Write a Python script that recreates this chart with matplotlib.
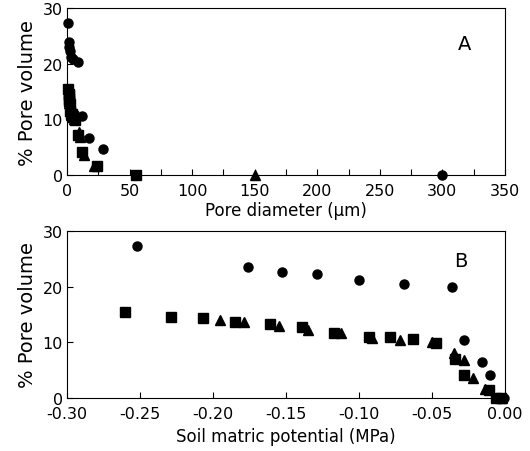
import matplotlib
matplotlib.use("Agg")
import matplotlib.pyplot as plt
from matplotlib.ticker import MultipleLocator

plt.rcParams['font.family'] = ['DejaVu Sans']

# panel A: pore diameter (um) vs % pore volume
a_circ_x = [1.2, 1.7, 2.0, 2.4, 3.0, 5.0, 9.0, 11.7, 17.9, 28.5, 300]
a_circ_y = [27.3, 23.9, 23.0, 22.4, 21.3, 20.9, 20.3, 10.7, 6.6, 4.6, 0]
a_sq_x = [1.1, 1.3, 1.4, 1.6, 1.8, 2.1, 2.5, 3.1, 3.7, 4.6, 6.2, 8.5, 11.7, 24, 55]
a_sq_y = [15.5, 14.6, 14.4, 13.7, 13.3, 12.7, 11.6, 11.0, 11.0, 10.6, 9.8, 7.1, 4.1, 1.6, 0]
a_tri_x = [1.5, 1.6, 1.9, 2.1, 2.6, 3.2, 4.0, 5.8, 9.6, 10.4, 13.2, 21.5, 150]
a_tri_y = [14.0, 13.6, 13.0, 12.2, 11.6, 10.8, 10.5, 10.1, 7.7, 6.8, 3.6, 1.6, 0]

# panel B: soil matric potential (MPa) vs % pore volume
b_circ_x = [-0.252, -0.176, -0.153, -0.129, -0.100, -0.069, -0.036, -0.028, -0.016, -0.010, -0.001]
b_circ_y = [27.2, 23.6, 22.7, 22.2, 21.2, 20.5, 19.9, 10.4, 6.5, 4.2, 0]
b_sq_x = [-0.260, -0.229, -0.207, -0.185, -0.161, -0.139, -0.117, -0.093, -0.079, -0.063,
          -0.047, -0.034, -0.028, -0.011, -0.006, -0.003]
b_sq_y = [15.5, 14.6, 14.4, 13.7, 13.3, 12.7, 11.6, 11.0, 11.0, 10.6,
          9.8, 7.1, 4.1, 1.4, 0, 0]
b_tri_x = [-0.195, -0.179, -0.155, -0.135, -0.112, -0.091, -0.072, -0.050, -0.035,
           -0.028, -0.022, -0.014, -0.002]
b_tri_y = [14.0, 13.6, 13.0, 12.2, 11.6, 10.8, 10.5, 10.1, 8.1, 6.8, 3.6, 1.6, 0]

fig = plt.figure(figsize=(5.3, 4.52), dpi=100)
axA = fig.add_axes([0.1264, 0.611, 0.8264, 0.368])
axB = fig.add_axes([0.1264, 0.117, 0.8264, 0.370])

ms = 6.5
for ax, cx, cy, sx, sy, tx, ty in [
        (axA, a_circ_x, a_circ_y, a_sq_x, a_sq_y, a_tri_x, a_tri_y),
        (axB, b_circ_x, b_circ_y, b_sq_x, b_sq_y, b_tri_x, b_tri_y)]:
    ax.plot(sx, sy, 's', color='black', ms=ms, clip_on=False, zorder=3)
    ax.plot(tx, ty, '^', color='black', ms=ms, clip_on=False, zorder=3)
    ax.plot(cx, cy, 'o', color='black', ms=ms, clip_on=False, zorder=3)
    ax.set_ylim(0, 30)
    ax.set_yticks([0, 10, 20, 30])
    ax.set_ylabel('% Pore volume', fontsize=14, labelpad=4)
    ax.tick_params(direction='in', length=4, width=0.8, labelsize=11.5)
    ax.tick_params(axis='x', pad=6)
    ax.tick_params(axis='y', pad=3)
    for s in ax.spines.values():
        s.set_linewidth(0.8)

axA.set_xlim(0, 350)
axA.set_xticks(range(0, 351, 50))
axA.xaxis.set_minor_locator(MultipleLocator(25))
axA.tick_params(which='minor', direction='in', length=4, width=0.8)
axA.set_xlabel('Pore diameter (\u00b5m)', fontsize=12, labelpad=2)
axA.text(0.908, 0.79, 'A', transform=axA.transAxes, fontsize=14,
         ha='center', va='center')

axB.set_xlim(-0.30, 0.0)
axB.set_xticks([-0.30, -0.25, -0.20, -0.15, -0.10, -0.05, 0.0])
axB.set_xticklabels(['-0.30', '-0.25', '-0.20', '-0.15', '-0.10', '-0.05', '0.00'])
axB.set_xlabel('Soil matric potential (MPa)', fontsize=12, labelpad=4)
axB.text(0.90, 0.82, 'B', transform=axB.transAxes, fontsize=14,
         ha='center', va='center')

fig.savefig('out.png', dpi=100)
